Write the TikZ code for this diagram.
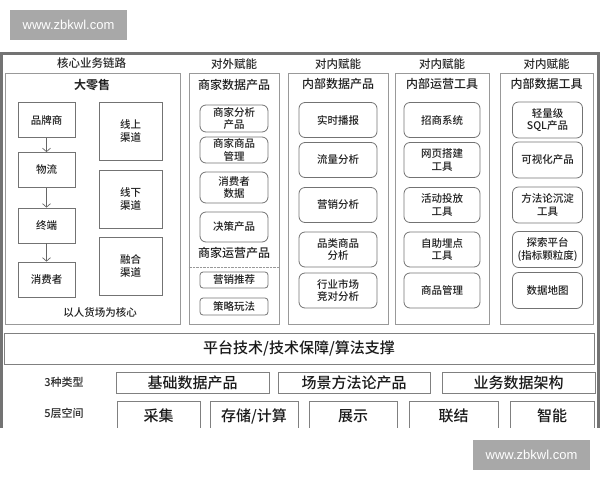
\documentclass[tikz,border=0pt]{standalone}
\usepackage{fontspec}
\setmainfont{Noto Sans CJK SC}[UprightFont={* Medium}, BoldFont={* Bold}]
\newfontfamily\wmfont{Liberation Sans}
\usepackage{tikz}
\usetikzlibrary{arrows.meta}
\newcommand\fsz[2]{\fontsize{#1}{#2}\selectfont}

\tikzset{
 colbox/.style={draw=black!40, line width=0.8pt, minimum height=251pt, inner sep=0pt},
 chainbox/.style={draw=black!55, line width=0.8pt, align=center, inner sep=0pt,
   text=black!88, font=\fsz{10.5}{12.5}},
 prodbox/.style={chainbox, rounded corners=6pt},
 smallbox/.style={chainbox, rounded corners=3pt, minimum width=68pt},
 head/.style={text=black!85, font=\fsz{11.5}{13}},
 subhead/.style={text=black!88, font=\fsz{12}{14}},
 basebox/.style={draw=black!50, line width=0.8pt, inner sep=0pt, text=black!90, font=\fsz{15}{18}},
 flow/.style={-{Straight Barb[length=3.5pt,width=8pt]}, draw=black!60, line width=0.7pt},
 wmbox/.style={fill=black!34, text=white, inner sep=0pt, minimum width=117pt,
   minimum height=30pt, font=\wmfont\fsz{13}{15}}
}

\begin{document}
\begin{tikzpicture}[x=1pt,y=-1pt]
\useasboundingbox (0,0) rectangle (600,480);
\node[wmbox] (wmtop) at (68.5,25) {www.zbkwl.com};
\node[wmbox] (wmbot) at (531.5,454.5) {www.zbkwl.com};

\begin{scope}
\clip (0,0) rectangle (600,427);
\draw[black!55, line width=3pt] (1.5,440) |- (598,53) -- (598,440);

\node[head] (h1) at (91.5,63) {核心业务链路};
\node[head] (h2) at (234,64) {对外赋能};
\node[head] (h3) at (338,64) {对内赋能};
\node[head] (h4) at (442,64) {对内赋能};
\node[head] (h5) at (546.5,64) {对内赋能};

\foreach \n/\x/\w in {k1/92.5/175, k2/234/90, k3/338/100, k4/442/94, k5/546.5/93}
 \node[colbox, minimum width=\w pt] (\n) at (\x,198.5) {};

\node[subhead, font=\fsz{12}{14}\bfseries] (dls) at (92,85) {大零售};
\foreach \n/\y/\t in {pp/120/品牌商, wl/170/物流, zd/225.5/终端, xf/279.5/消费者}
 \node[chainbox, minimum width=57pt, minimum height=35pt] (\n) at (46.5,\y) {\t};
\foreach \a/\b in {pp/wl, wl/zd, zd/xf}
 \draw[flow] (\a) -- (\b);
\foreach \n/\y/\t in {qs/131/{线上\\渠道}, qx/199/{线下\\渠道}, qr/266/{融合\\渠道}}
 \node[chainbox, minimum width=63pt, minimum height=58pt] (\n) at (130.5,\y) {\t};
\node[chainbox, draw=none] (core) at (100,312) {以人货场为核心};

\node[subhead] (sjsj) at (234,85) {商家数据产品};
\foreach \n/\y/\h/\t in {s1/118.5/27/{商家分析\\产品}, s2/150/26/{商家商品\\管理},
  s3/187.5/31/{消费者\\数据}, s4/227/30/决策产品}
 \node[prodbox, minimum width=68pt, minimum height=\h pt] (\n) at (234,\y) {\t};
\node[subhead] (sjyy) at (234,253) {商家运营产品};
\draw[black!40, densely dotted] (k2.west |- 0,267) -- (k2.east |- 0,267);
\node[smallbox, minimum height=16pt] (yxtj) at (234,280) {营销推荐};
\node[smallbox, minimum height=17pt] (clwf) at (234,306.5) {策略玩法};

\node[subhead] (nbsj) at (338,84) {内部数据产品};
\node[subhead] (nbyy) at (442,84) {内部运营工具};
\node[subhead] (nbgj) at (546.5,84) {内部数据工具};
\foreach \y/\a/\b/\c [count=\i] in {
  120/实时播报/招商系统/{轻量级\\SQL产品},
  160/流量分析/{网页搭建\\工具}/可视化产品,
  205/营销分析/{活动投放\\工具}/{方法论沉淀\\工具},
  249.5/{品类商品\\分析}/{自助埋点\\工具}/{探索平台\\(指标颗粒度)},
  290.5/{行业市场\\竞对分析}/商品管理/数据地图}{
 \node[prodbox, minimum width=78pt, minimum height=35pt] (p\i) at (338,\y) {\a};
 \node[prodbox, minimum width=76pt, minimum height=35pt] (o\i) at (442,\y) {\b};
 \node[prodbox, minimum width=70pt, minimum height=36pt] (t\i) at (547.5,\y) {\c};
}

\node[basebox, minimum width=590pt, minimum height=31pt] (pt) at (299,348.5)
 {平台技术/技术保障/算法支撑};

\node[text=black!85, font=\fsz{11}{13}] (lx) at (64,382) {3种类型};
\node[text=black!85, font=\fsz{11}{13}] (kj) at (64,413) {5层空间};
\node[basebox, minimum width=153pt, minimum height=21pt] (jc) at (192.5,382.5) {基础数据产品};
\node[basebox, minimum width=152pt, minimum height=21pt] (cj) at (354,382.5) {场景方法论产品};
\node[basebox, minimum width=153pt, minimum height=21pt] (yw) at (518.5,382.5) {业务数据架构};

\node[basebox, minimum width=83pt, minimum height=30pt] (l1) at (158.5,416) {采集};
\node[basebox, minimum width=88pt, minimum height=30pt] (l2) at (254,416) {存储/计算};
\node[basebox, minimum width=88pt, minimum height=30pt] (l3) at (353,416) {展示};
\node[basebox, minimum width=89pt, minimum height=30pt] (l4) at (453.5,416) {联结};
\node[basebox, minimum width=84pt, minimum height=30pt] (l5) at (552,416) {智能};
\end{scope}
\end{tikzpicture}
\end{document}
